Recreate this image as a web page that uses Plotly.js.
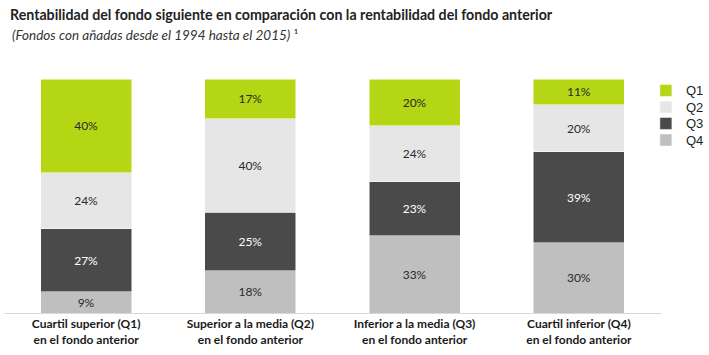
<!DOCTYPE html>
<html>
<head>
<meta charset="utf-8">
<script src="https://cdn.plot.ly/plotly-3.0.1.min.js"></script>
<style>html,body{margin:0;padding:0;background:#fff;}#chart{width:709px;height:355px;}</style>
</head>
<body>
<div id="chart"></div>
<script>
const categories = [
  "Cuartil superior (Q1)<br>en el fondo anterior",
  "Superior a la media (Q2)<br>en el fondo anterior",
  "Inferior a la media (Q3)<br>en el fondo anterior",
  "Cuartil inferior (Q4)<br>en el fondo anterior"
];
const q1 = [40, 17, 20, 11];
const q2 = [24, 40, 24, 20];
const q3 = [27, 25, 23, 39];
const q4 = [9, 18, 33, 30];
const seriesNames = ["Q1", "Q2", "Q3", "Q4"];
const colors = ["#b5d614", "#e6e6e6", "#4a4a4a", "#bfbfbf"];
const textColors = ["#2a2a2a", "#2a2a2a", "#ffffff", "#2a2a2a"];
const seriesValues = [q1, q2, q3, q4];
const legendIds = ["legend", "legend2", "legend3", "legend4"];
const legendY = [0.951, 0.880, 0.810, 0.739];

// stack bottom-to-top: Q4, Q3, Q2, Q1
const order = [3, 2, 1, 0];
const traces = order.map(i => ({
  type: "bar",
  name: seriesNames[i],
  legend: legendIds[i],
  x: categories,
  y: seriesValues[i],
  text: seriesValues[i].map(v => v + "%"),
  textposition: "inside",
  insidetextanchor: "middle",
  textfont: {family: "Lato, 'Open Sans', sans-serif", size: 12, color: textColors[i]},
  marker: {color: colors[i], line: {color: "#ffffff", width: 0.5}},
  hoverinfo: "skip"
}));

function legendAt(y) {
  return {
    x: 0.977, xanchor: "left", y: y, yanchor: "middle",
    font: {family: "'Liberation Sans', Arial, sans-serif", size: 13, color: "#222"},
    bgcolor: "rgba(0,0,0,0)", borderwidth: 0
  };
}

const layout = {
  width: 709, height: 355,
  margin: {l: 4, r: 48, t: 79, b: 42, autoexpand: false},
  barmode: "stack",
  bargap: 0.445,
  paper_bgcolor: "#ffffff",
  plot_bgcolor: "#ffffff",
  showlegend: true,
  legend: legendAt(legendY[0]),
  legend2: legendAt(legendY[1]),
  legend3: legendAt(legendY[2]),
  legend4: legendAt(legendY[3]),
  xaxis: {
    showline: true, linecolor: "#d9d9d9", linewidth: 1,
    ticks: "", showgrid: false,
    tickfont: {family: "Lato, 'Open Sans', sans-serif", size: 12, color: "#1a1a1a", weight: "bold"}
  },
  yaxis: {
    range: [0, 100], visible: false, showgrid: false, zeroline: false
  },
  annotations: [
    {
      xref: "paper", yref: "paper", x: 0.006, y: 1.275, xanchor: "left", yanchor: "middle",
      text: "<b>Rentabilidad del fondo siguiente en comparación con la rentabilidad del fondo anterior</b>",
      showarrow: false,
      font: {family: "Lato, 'Open Sans', sans-serif", size: 14.2, color: "#222"}
    },
    {
      xref: "paper", yref: "paper", x: 0.009, y: 1.187, xanchor: "left", yanchor: "middle",
      text: "<i>(Fondos con añadas desde el 1994 hasta el 2015)</i> ¹",
      showarrow: false,
      font: {family: "Lato, 'Open Sans', sans-serif", size: 13.5, color: "#333"}
    }
  ]
};

Plotly.newPlot("chart", traces, layout, {displayModeBar: false, staticPlot: true});
</script>
</body>
</html>
